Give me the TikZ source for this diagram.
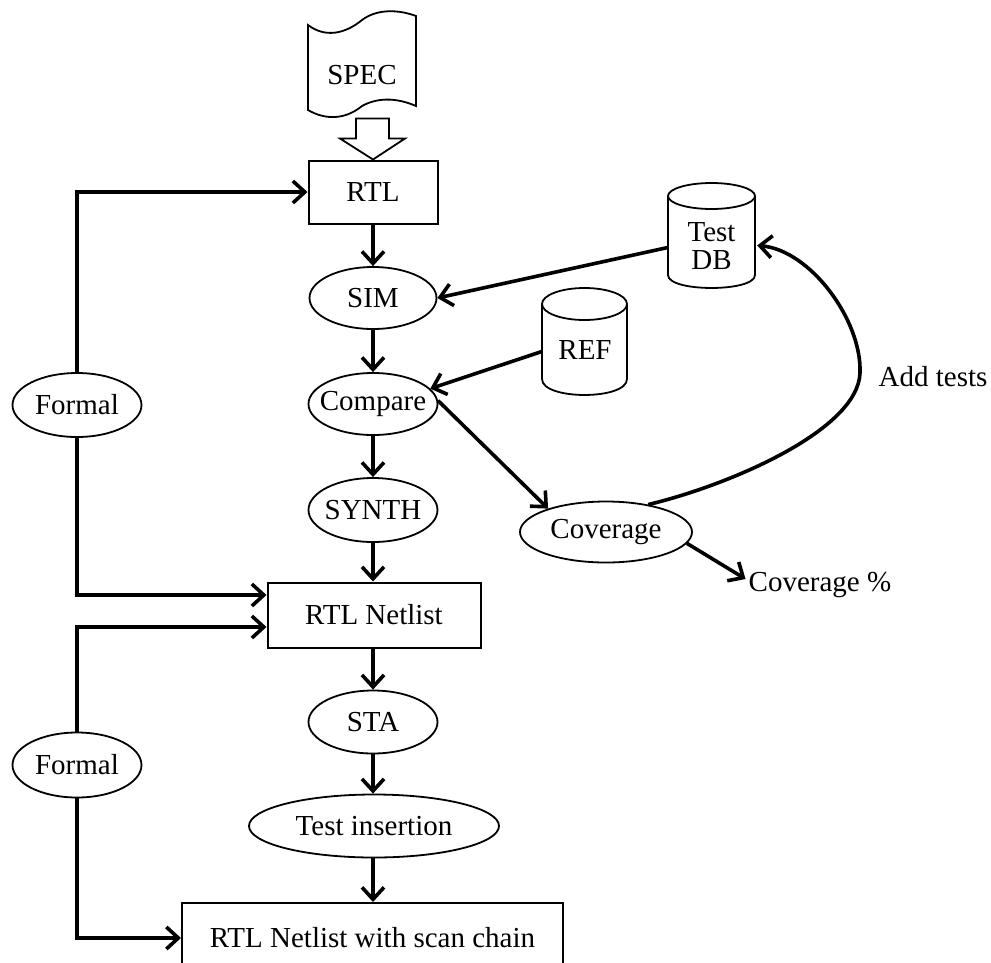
\documentclass[tikz,border=0pt]{standalone}
\usepackage{fontspec}
\setmainfont{Liberation Serif}
\usetikzlibrary{arrows.meta,shapes.geometric,calc}

\begin{document}
\begin{tikzpicture}[x=1pt,y=-1pt,
  every node/.style={font=\fontsize{29}{28}\selectfont, inner sep=0pt},
  box/.style={draw, line width=2pt, rectangle},
  oval/.style={draw, line width=1.8pt, ellipse, inner xsep=-12pt},
  shapeline/.style={draw, line width=1.8pt},
  conn/.style={line width=3.6pt, -{Straight Barb[length=12pt,width=22pt]}},
  hollowarrow/.style={draw, line width=1.8pt, fill=white, line join=miter}]

\useasboundingbox (0,0) rectangle (991,962);

% specification document (punched-tape outline)
\draw[shapeline] (308,25) .. controls (325,38) and (345,34) .. (362,20)
  .. controls (378,8) and (400,10) .. (416,16) -- (416,106)
  .. controls (400,99) and (380,96) .. (362,106)
  .. controls (345,120) and (325,120) .. (308,110) -- cycle;
\node (spec) at (362,75) {SPEC};

% main flow
\node[box, minimum width=129pt, minimum height=63pt] (rtl) at (373,192) {RTL};
\node[oval, minimum width=127pt, minimum height=62pt] (sim) at (373,298) {SIM};
\node[oval, minimum width=129pt, minimum height=62pt] (compare) at (373,404) {Compare};
\node[oval, minimum width=129pt, minimum height=64pt] (synth) at (373,510) {SYNTH};
\node[box, minimum width=213pt, minimum height=65pt] (netlist) at (374,615) {RTL Netlist};
\node[oval, minimum width=129pt, minimum height=63pt] (sta) at (373,722) {STA};
\node[oval, minimum width=250pt, minimum height=63pt] (testins) at (374,826) {Test insertion};
\node[box, minimum width=381pt, minimum height=70pt] (scan) at (372.5,938) {RTL Netlist with scan chain};

% formal checks
\node[oval, minimum width=129pt, minimum height=64pt] (formal1) at (77,405) {Formal};
\node[oval, minimum width=129pt, minimum height=65pt] (formal2) at (77,765) {Formal};

% databases
\node[minimum width=87pt, minimum height=105pt] (testdb) at (711.5,235.5) {};
\draw[shapeline] (668,196) -- (668,275) .. controls (668,292.3) and (755,292.3) .. (755,275) -- (755,196);
\draw[shapeline] (711.5,196) ellipse[x radius=43.5, y radius=13];
\node[align=center] (testdblabel) at (711.5,246) {Test\\DB};

\node[minimum width=85pt, minimum height=107pt] (ref) at (584.5,341.5) {};
\draw[shapeline] (542,304) -- (542,379) .. controls (542,400.3) and (627,400.3) .. (627,379) -- (627,304);
\draw[shapeline] (584.5,304) ellipse[x radius=42.5, y radius=16];
\node (reflabel) at (585,350) {REF};

% coverage
\node[oval, minimum width=172pt, minimum height=61pt] (coverage) at (606,532) {Coverage};
\node (covpct) at (820,585) {Coverage \%};
\node (addtests) at (933,377) {Add tests};
\coordinate (loopturn) at (860,373);

% hollow arrow from the specification into RTL
\draw[hollowarrow] (rtl.north) -- ++(-33,-21) -- ++(16,0) -- ++(0,-20)
  -- ++(33,0) -- ++(0,20) -- ++(16,0) -- cycle;

% vertical flow
\draw[conn] (rtl.south) -- (sim.north);
\draw[conn] (sim.south) -- (compare.north);
\draw[conn] (compare.south) -- (synth.north);
\draw[conn] (synth.south) -- (netlist.north -| synth.south);
\draw[conn] (netlist.south -| sta.north) -- (sta.north);
\draw[conn] (sta.south) -- (testins.north -| sta.south);
\draw[conn] (testins.south -| sta.south) -- (scan.north -| sta.south);

% formal equivalence loops
\draw[conn] (formal1.north) |- (rtl.west);
\draw[conn] (formal1.south) |- ($(netlist.west)+(0,-20)$);
\draw[conn] (formal2.north) |- ($(netlist.west)+(0,12)$);
\draw[conn] (formal2.south) |- (scan.west);

% test database, reference model and coverage
\draw[conn] ($(testdb.west)+(0,12)$) -- (sim.east);
\draw[conn] ($(ref.west)+(0,10)$) -- (compare.15);
\draw[conn] (compare.3) -- (coverage.158);
\draw[conn] (coverage.-8) -- ($(covpct.west)+(-3,-6)$);
\draw[conn] (coverage.33) .. controls (730,485) and (858,430) .. (loopturn)
  .. controls (862,320) and (810,250) .. ($(testdb.east)+(2,10)$);

\end{tikzpicture}
\end{document}
